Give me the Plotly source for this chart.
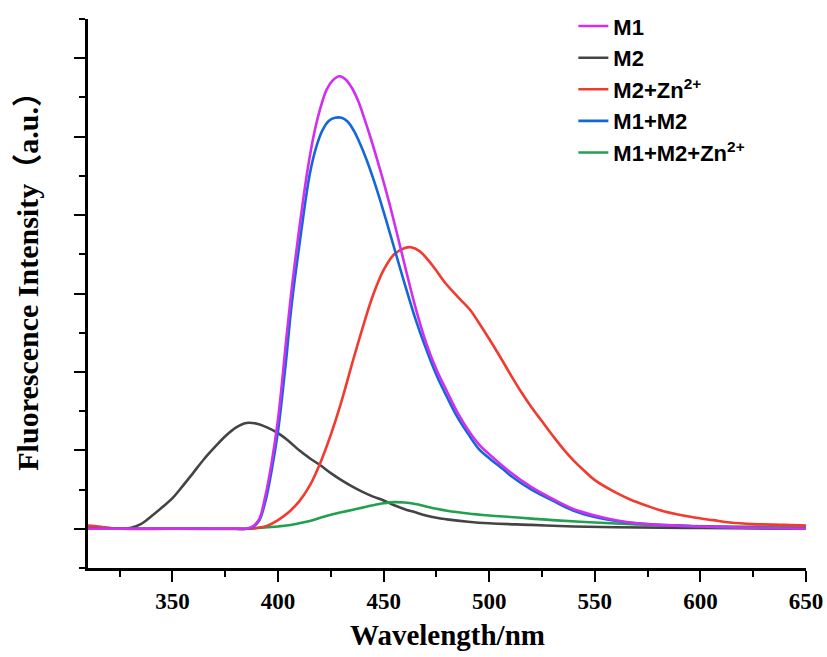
import plotly.graph_objects as go

# ---- data ----
m1_wl = [310, 330, 350, 370, 380, 385, 388, 391, 394, 397, 400, 402, 404, 406, 408, 411, 414, 417, 420, 423, 426, 429, 432, 435, 438, 441, 444, 447, 450, 453, 456, 460, 465, 470, 475, 480, 485, 490, 495, 500, 510, 520, 530, 540, 550, 560, 570, 580, 600, 620, 650]
m1_val = [0.0, 0.0, 0.0, 0.0, 0.0, 0.0, 0.03, 0.12, 0.42, 0.85, 1.4, 1.9, 2.45, 2.95, 3.4, 4.02, 4.58, 5.03, 5.36, 5.6, 5.72, 5.77, 5.73, 5.62, 5.45, 5.22, 4.97, 4.7, 4.42, 4.12, 3.8, 3.36, 2.83, 2.38, 2.03, 1.75, 1.48, 1.26, 1.08, 0.95, 0.72, 0.53, 0.38, 0.25, 0.17, 0.11, 0.07, 0.05, 0.03, 0.015, 0.0]

m2_wl = [310, 315, 320, 325, 330, 335, 340, 345, 350, 355, 360, 365, 370, 375, 380, 385, 390, 395, 400, 405, 410, 415, 420, 425, 430, 435, 440, 445, 450, 455, 460, 465, 470, 475, 480, 490, 500, 520, 540, 560, 600, 650]
m2_val = [0.03, 0.02, 0.01, 0.0, 0.01, 0.06, 0.16, 0.27, 0.39, 0.55, 0.72, 0.89, 1.04, 1.18, 1.29, 1.35, 1.34, 1.29, 1.22, 1.12, 1.0, 0.9, 0.81, 0.71, 0.62, 0.54, 0.47, 0.41, 0.36, 0.3, 0.25, 0.21, 0.17, 0.14, 0.12, 0.09, 0.07, 0.05, 0.03, 0.02, 0.01, 0.0]

m2zn_wl = [310, 315, 320, 325, 350, 380, 385, 390, 395, 400, 405, 410, 415, 420, 425, 430, 435, 440, 445, 450, 455, 460, 463, 467, 471, 475, 479, 485, 491, 495, 500, 505, 510, 515, 520, 525, 530, 535, 540, 545, 550, 560, 567, 575, 583, 590, 598, 606, 614, 625, 640, 650]
m2zn_val = [0.04, 0.03, 0.01, 0.0, 0.0, 0.0, 0.0, 0.01, 0.04, 0.11, 0.21, 0.35, 0.55, 0.84, 1.2, 1.62, 2.1, 2.56, 2.98, 3.3, 3.5, 3.58, 3.59, 3.54, 3.43, 3.29, 3.14, 2.96, 2.79, 2.63, 2.42, 2.2, 1.97, 1.75, 1.55, 1.37, 1.19, 1.02, 0.87, 0.74, 0.62, 0.46, 0.37, 0.29, 0.22, 0.18, 0.14, 0.11, 0.08, 0.06, 0.05, 0.04]

m1m2_wl = [310, 330, 350, 370, 380, 385, 388, 391, 394, 397, 400, 402, 404, 406, 408, 411, 415, 418, 421, 424, 427, 430, 433, 436, 439, 442, 445, 448, 451, 455, 460, 465, 470, 475, 480, 485, 490, 495, 500, 507, 510, 520, 530, 540, 550, 560, 570, 580, 600, 620, 650]
m1m2_val = [0.0, 0.0, 0.0, 0.0, 0.0, 0.0, 0.02, 0.1, 0.35, 0.75, 1.25, 1.7, 2.2, 2.75, 3.2, 3.8, 4.52, 4.86, 5.08, 5.2, 5.24, 5.24, 5.19, 5.07, 4.9, 4.7, 4.47, 4.22, 3.95, 3.58, 3.12, 2.68, 2.3, 1.96, 1.68, 1.42, 1.21, 1.02, 0.9, 0.75, 0.68, 0.5, 0.36, 0.23, 0.15, 0.1, 0.07, 0.05, 0.03, 0.015, 0.0]

m1m2zn_wl = [310, 350, 385, 390, 395, 400, 405, 410, 415, 420, 425, 430, 435, 440, 445, 450, 455, 460, 465, 470, 475, 480, 490, 500, 510, 520, 530, 550, 570, 590, 610, 650]
m1m2zn_val = [0.0, 0.0, 0.0, 0.01, 0.02, 0.03, 0.045, 0.07, 0.1, 0.14, 0.18, 0.21, 0.24, 0.27, 0.3, 0.325, 0.34, 0.335, 0.315, 0.285, 0.255, 0.23, 0.195, 0.17, 0.15, 0.13, 0.11, 0.08, 0.055, 0.04, 0.03, 0.02]

x_ticks = [350, 400, 450, 500, 550, 600, 650]

series = [
    ("M1", m1_wl, m1_val, "#D12EF2"),
    ("M2", m2_wl, m2_val, "#444444"),
    ("M2+Zn<sup>2+</sup>", m2zn_wl, m2zn_val, "#F23A2E"),
    ("M1+M2", m1m2_wl, m1m2_val, "#1467DA"),
    ("M1+M2+Zn<sup>2+</sup>", m1m2zn_wl, m1m2zn_val, "#21A150"),
]
draw_order = [1, 4, 2, 3, 0]

fig = go.Figure()
for i in draw_order:
    name, xs, ys, col = series[i]
    fig.add_trace(go.Scatter(
        x=xs, y=ys, mode="lines", name=name,
        line=dict(color=col, width=2.6, shape="spline", smoothing=1.0),
        legendrank=i + 1,
    ))

serif = "Liberation Serif, Times New Roman, Noto Sans CJK SC, serif"

fig.update_layout(
    width=827, height=657,
    margin=dict(l=88, r=21, t=19, b=89, autoexpand=False),
    paper_bgcolor="white", plot_bgcolor="white",
    showlegend=True,
    legend=dict(
        x=0.676, y=1.025, xanchor="left", yanchor="top",
        bgcolor="rgba(0,0,0,0)", borderwidth=0,
        font=dict(family="Liberation Sans, Arial, sans-serif", size=22, color="black", weight="bold"),
        traceorder="normal", tracegroupgap=0,
    ),
    xaxis=dict(
        range=[310, 650], tickmode="array", tickvals=x_ticks,
        ticks="outside", ticklen=11, tickwidth=2, tickcolor="black",
        showline=True, linecolor="black", linewidth=2.5,
        showgrid=False, zeroline=False,
        tickfont=dict(family=serif, size=23, color="black", weight="bold"),
        minor=dict(dtick=25, tick0=325, ticks="outside", ticklen=6, tickwidth=2, tickcolor="black", showgrid=False),
    ),
    yaxis=dict(
        range=[-0.5, 6.5], dtick=1, tick0=0,
        ticks="outside", ticklen=11, tickwidth=2, tickcolor="black",
        showline=True, linecolor="black", linewidth=2.5,
        showgrid=False, zeroline=False, showticklabels=False,
        minor=dict(dtick=0.5, tick0=0, ticks="outside", ticklen=6, tickwidth=2, tickcolor="black", showgrid=False),
    ),
    annotations=[
        dict(text="Wavelength/nm", xref="paper", yref="paper", x=0.5, y=-0.122,
             xanchor="center", yanchor="middle", showarrow=False,
             font=dict(family=serif, size=29, color="black", weight="bold")),
        dict(text="Fluorescence Intensity（a.u.）", xref="paper", yref="paper", x=-0.0836, y=0.536,
             xanchor="center", yanchor="middle", showarrow=False, textangle=-90,
             font=dict(family=serif, size=30, color="black", weight="bold")),
    ],
)

fig.write_html("out.html")
